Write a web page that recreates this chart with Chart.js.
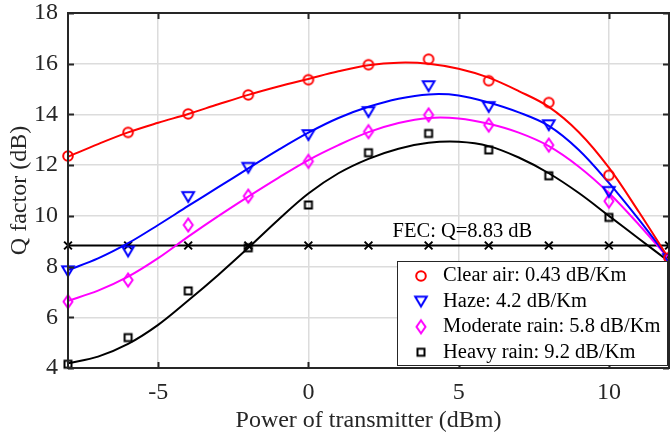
<!DOCTYPE html>
<html>
<head>
<meta charset="utf-8">
<title>Q factor vs transmitter power</title>
<script src="https://cdn.jsdelivr.net/npm/chart.js@4.4.0/dist/chart.umd.min.js"></script>
<style>
html, body { margin: 0; padding: 0; background: #fff; }
</style>
</head>
<body>
<canvas id="qChart" width="670" height="436"></canvas>
<script>
// measured points (markers)
var powerX = [-8, -6, -4, -2, 0, 2, 4, 6, 8, 10, 12];
var clearAirQ = [12.36, 13.29, 14.02, 14.77, 15.37, 15.96, 16.18, 15.33, 14.47, 11.6, 8.35];
var hazeQ = [7.82, 8.6, 10.75, 11.9, 13.19, 14.1, 15.12, 14.3, 13.58, 10.95, 8.3];
var moderateQ = [6.62, 7.47, 9.64, 10.78, 12.15, 13.32, 13.98, 13.58, 12.79, 10.58, 8.3];
var heavyQ = [4.15, 5.2, 7.04, 8.74, 10.43, 12.49, 13.25, 12.6, 11.58, 9.94, 8.25];

// fitted curves at every 1 dBm
var fitX = [-8, -7, -6, -5, -4, -3, -2, -1, 0, 1, 2, 3, 4, 5, 6, 7, 8, 9, 10, 11, 12];
var clearAirFit = [12.33, 12.83, 13.29, 13.67, 14.02, 14.4, 14.77, 15.1, 15.4, 15.7, 15.94, 16.04, 16.0, 15.8, 15.45, 14.92, 14.3, 13.3, 11.9, 10.15, 8.3];
var hazeFit = [7.86, 8.32, 8.92, 9.64, 10.39, 11.13, 11.87, 12.6, 13.28, 13.86, 14.3, 14.62, 14.79, 14.75, 14.47, 14.08, 13.55, 12.6, 11.3, 9.85, 8.3];
var moderateFit = [6.65, 7.05, 7.6, 8.33, 9.18, 9.99, 10.76, 11.5, 12.2, 12.79, 13.3, 13.66, 13.86, 13.84, 13.63, 13.28, 12.75, 11.94, 10.9, 9.65, 8.3];
var heavyFit = [4.19, 4.45, 4.95, 5.7, 6.66, 7.67, 8.74, 9.85, 10.88, 11.68, 12.25, 12.65, 12.88, 12.92, 12.75, 12.3, 11.68, 10.9, 10.0, 9.1, 8.2];

// FEC threshold
var fecX = [-8, -6, -4, -2, 0, 2, 4, 6, 8, 10, 12];
var fecQ = [8.83, 8.83, 8.83, 8.83, 8.83, 8.83, 8.83, 8.83, 8.83, 8.83, 8.83];
var fecLabel = 'FEC: Q=8.83 dB';

var seriesNames = ['Clear air: 0.43 dB/Km', 'Haze: 4.2 dB/Km', 'Moderate rain: 5.8 dB/Km', 'Heavy rain: 9.2 dB/Km'];
var xTickValues = [-5, 0, 5, 10];
var yTickValues = [4, 6, 8, 10, 12, 14, 16, 18];

var FONT = "'Liberation Serif', 'Times New Roman', serif";
var AXIS_COLOR = '#262626';

function markerCanvas(kind, color) {
    var c = document.createElement('canvas');
    c.width = 20; c.height = 20;
    var g = c.getContext('2d');
    g.strokeStyle = color;
    g.lineWidth = 2;
    g.beginPath();
    if (kind === 'circle') {
        g.arc(10, 10, 4.8, 0, Math.PI * 2);
    } else if (kind === 'tri') {
        g.moveTo(4.2, 5.2); g.lineTo(15.8, 5.2); g.lineTo(10, 15); g.closePath();
    } else if (kind === 'diamond') {
        g.moveTo(10, 3.5); g.lineTo(14.5, 10); g.lineTo(10, 16.5); g.lineTo(5.5, 10); g.closePath();
    } else {
        g.rect(6.5, 6.5, 7, 7);
    }
    g.stroke();
    return c;
}

function pts(xs, ys) {
    return xs.map(function (x, i) { return { x: x, y: ys[i] }; });
}

var series = [
    { name: seriesNames[0], color: '#ff0000', marker: markerCanvas('circle', '#ff0000'), pts: clearAirQ, fit: clearAirFit },
    { name: seriesNames[1], color: '#0000ff', marker: markerCanvas('tri', '#0000ff'), pts: hazeQ, fit: hazeFit },
    { name: seriesNames[2], color: '#ff00ff', marker: markerCanvas('diamond', '#ff00ff'), pts: moderateQ, fit: moderateFit },
    { name: seriesNames[3], color: '#000000', marker: markerCanvas('square', '#000000'), pts: heavyQ, fit: heavyFit }
];

var datasets = [];
series.forEach(function (s) {
    datasets.push({
        label: s.name + ' fit',
        data: pts(fitX, s.fit),
        showLine: true,
        borderColor: s.color,
        borderWidth: 2,
        pointRadius: 0,
        tension: 0.35,
        clip: false,
        order: 2
    });
    datasets.push({
        label: s.name,
        data: pts(powerX, s.pts),
        showLine: false,
        pointStyle: s.marker,
        pointRadius: 6,
        clip: false,
        order: 1
    });
});
datasets.push({
    label: 'FEC',
    data: pts(fecX, fecQ),
    showLine: true,
    borderColor: '#000000',
    borderWidth: 2,
    pointStyle: 'crossRot',
    pointRadius: 5.5,
    pointBorderWidth: 2,
    pointBorderColor: '#000000',
    clip: false,
    order: 3
});

// box, inward ticks, FEC label and legend
var framePlugin = {
    id: 'frame',
    afterDatasetsDraw: function (chart) {
        var ctx = chart.ctx;
        var a = chart.chartArea;
        var xs = chart.scales.x, ys = chart.scales.y;
        ctx.save();

        // FEC label
        ctx.fillStyle = '#000';
        ctx.font = '20.5px ' + FONT;
        ctx.textAlign = 'left';
        ctx.textBaseline = 'middle';
        ctx.fillText(fecLabel, xs.getPixelForValue(2.8), ys.getPixelForValue(9.37));

        // axes box with inward ticks
        ctx.strokeStyle = AXIS_COLOR;
        ctx.lineWidth = 2;
        ctx.strokeRect(a.left, a.top, a.right - a.left, a.bottom - a.top);
        ctx.beginPath();
        xTickValues.forEach(function (v) {
            var px = Math.round(xs.getPixelForValue(v)) + 0.5;
            ctx.moveTo(px, a.bottom); ctx.lineTo(px, a.bottom - 6);
            ctx.moveTo(px, a.top); ctx.lineTo(px, a.top + 6);
        });
        yTickValues.forEach(function (v) {
            var py = Math.round(ys.getPixelForValue(v)) + 0.5;
            ctx.moveTo(a.left, py); ctx.lineTo(a.left + 6, py);
            ctx.moveTo(a.right, py); ctx.lineTo(a.right - 6, py);
        });
        ctx.stroke();

        // legend
        var w = 271, h = 105;
        var lx = a.right - 1 - w, ly = a.bottom - 2 - h;
        ctx.fillStyle = '#fff';
        ctx.fillRect(lx, ly, w, h);
        ctx.strokeStyle = '#262626';
        ctx.lineWidth = 1;
        ctx.strokeRect(lx + 0.5, ly + 0.5, w - 1, h - 1);
        ctx.font = '20.5px ' + FONT;
        ctx.fillStyle = '#000';
        series.forEach(function (s, i) {
            var cy = ly + 15 + i * 25.4;
            ctx.drawImage(s.marker, lx + 24 - 10, cy - 10);
            ctx.fillText(s.name, lx + 46, cy);
        });
        ctx.restore();
    }
};

var ctx = document.getElementById('qChart');
var qChart = new Chart(ctx, {
    type: 'scatter',
    data: { datasets: datasets },
    options: {
        responsive: false,
        animation: false,
        devicePixelRatio: 1,
        layout: { autoPadding: false, padding: { left: 0, top: 13, right: 1, bottom: 0 } },
        plugins: {
            legend: { display: false },
            tooltip: { enabled: false }
        },
        scales: {
            x: {
                type: 'linear',
                min: -8,
                max: 12,
                afterBuildTicks: function (scale) {
                    scale.ticks = xTickValues.map(function (v) { return { value: v }; });
                },
                afterFit: function (scale) {
                    scale.height = 68;
                    scale.paddingLeft = 0;
                    scale.paddingRight = 0;
                },
                grid: { color: '#dcdcdc', lineWidth: 1.5, drawTicks: false },
                border: { display: false },
                ticks: {
                    padding: 12,
                    color: AXIS_COLOR,
                    font: { family: FONT, size: 24, lineHeight: 1.1 },
                    maxRotation: 0
                },
                title: {
                    display: true,
                    text: 'Power of transmitter (dBm)',
                    color: AXIS_COLOR,
                    font: { family: FONT, size: 24 },
                    padding: { top: 0, bottom: 1 }
                }
            },
            y: {
                type: 'linear',
                min: 4,
                max: 18,
                afterBuildTicks: function (scale) {
                    scale.ticks = yTickValues.map(function (v) { return { value: v }; });
                },
                afterFit: function (scale) {
                    scale.width = 68;
                    scale.paddingTop = 0;
                    scale.paddingBottom = 0;
                },
                grid: { color: '#dcdcdc', lineWidth: 1.5, drawTicks: false },
                border: { display: false },
                ticks: {
                    padding: 10,
                    color: AXIS_COLOR,
                    font: { family: FONT, size: 24, lineHeight: 1.1 }
                },
                title: {
                    display: true,
                    text: 'Q factor (dB)',
                    color: AXIS_COLOR,
                    font: { family: FONT, size: 24 },
                    padding: { top: 5, bottom: 0 }
                }
            }
        }
    },
    plugins: [framePlugin]
});
</script>
</body>
</html>
